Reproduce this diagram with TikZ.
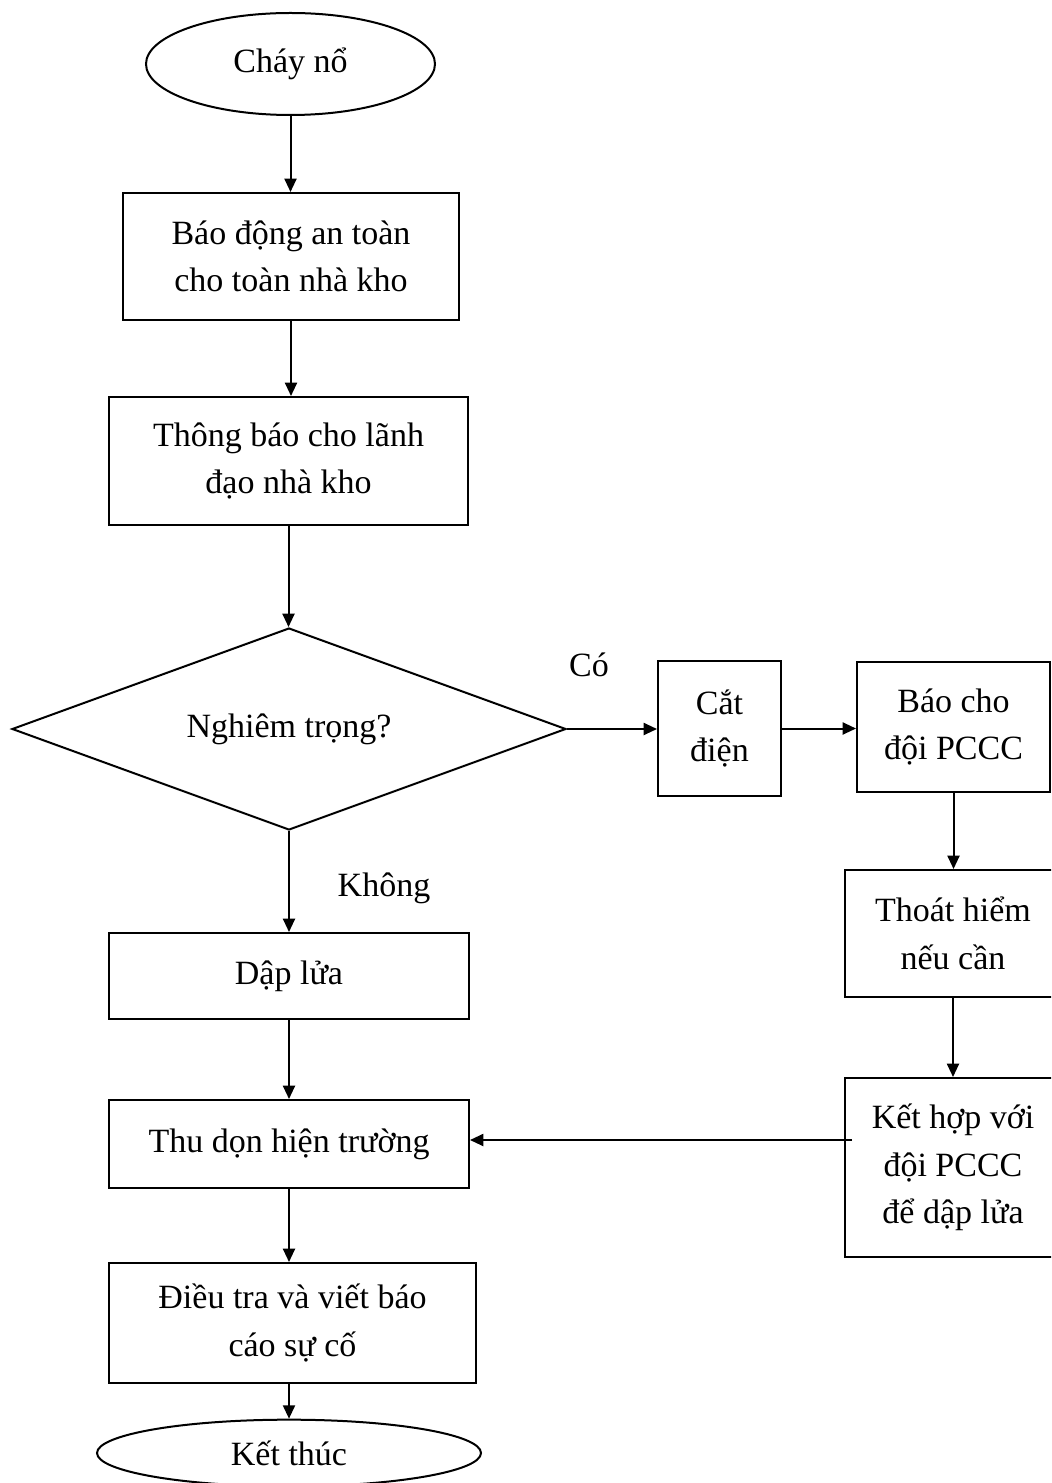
\documentclass[tikz,border=0pt]{standalone}
\usepackage{fontspec}
\setmainfont{Liberation Serif}
\usetikzlibrary{shapes.geometric,arrows.meta,calc}
\begin{document}
\begin{tikzpicture}[x=0.75pt,y=-0.75pt,
  every node/.style={font=\fontsize{25.5pt}{35.5pt}\selectfont, align=center, inner sep=0pt},
  box/.style={draw, line width=1.5pt, rectangle},
  oval/.style={draw, line width=1.5pt, ellipse},
  decision/.style={draw, line width=1.5pt, diamond},
  arr/.style={line width=1.5pt, -{Triangle[length=10pt,width=9pt]}},
  lbl/.style={}]
\useasboundingbox (0,0) rectangle (1051,1483);
\clip (0,0) rectangle (1051,1483);
\node[oval, minimum width=216.75pt, minimum height=76.5pt] (start) at (290.5,64) {Cháy nổ};
\node[box, minimum width=252pt, minimum height=95.25pt] (b1) at (291,256.5) {Báo động an toàn\\cho toàn nhà kho};
\node[box, minimum width=269.25pt, minimum height=96pt] (b2) at (288.5,461) {Thông báo cho lãnh\\đạo nhà kho};
\node[decision, aspect=2.74, minimum width=415.5pt, minimum height=151.5pt] (d) at (289,729) {Nghiêm trọng?};
\node[box, minimum width=92.25pt, minimum height=101.25pt] (cut) at (719.5,728.5) {Cắt\\điện};
\node[box, minimum width=144.75pt, minimum height=97.5pt] (pc) at (953.5,727) {Báo cho\\đội PCCC};
\node[box, minimum width=162pt, minimum height=95.25pt] (th) at (953,933.5) {Thoát hiểm\\nếu cần};
\node[box, minimum width=162pt, minimum height=134.25pt] (kh) at (953,1167.5) {Kết hợp với\\đội PCCC\\để dập lửa};
\node[box, minimum width=270pt, minimum height=64.5pt] (dl) at (289,976) {Dập lửa};
\node[box, minimum width=270pt, minimum height=66pt] (td) at (289,1144) {Thu dọn hiện trường};
\node[box, minimum width=275.25pt, minimum height=90pt] (dt) at (292.5,1323) {Điều tra và viết báo\\cáo sự cố};
\node[oval, minimum width=288pt, minimum height=50pt] (end) at (289,1453) {Kết thúc};
\node[lbl] (co) at (589,665) {Có};
\node[lbl] (khong) at (384,888) {Không};
\draw[arr] (start.south) -- (start.south |- b1.north);
\draw[arr] (b1.south) -- (b1.south |- b2.north);
\draw[arr] (b2.south) -- (b2.south |- d.north);
\draw[arr] (d.east) -- (d.east -| cut.west);
\draw[arr] (cut.east) -- (cut.east -| pc.west);
\draw[arr] (pc.south) -- (pc.south |- th.north);
\draw[arr] (th.south) -- (th.south |- kh.north);
\draw[arr] ($(kh.west |- td.east)+(8,-4)$) -- ($(td.east)+(0,-4)$);
\draw[arr] (d.south) -- (d.south |- dl.north);
\draw[arr] (dl.south) -- (dl.south |- td.north);
\draw[arr] (td.south) -- (td.south |- dt.north);
\draw[arr] (dt.south -| end.north) -- (end.north);
\end{tikzpicture}
\end{document}
